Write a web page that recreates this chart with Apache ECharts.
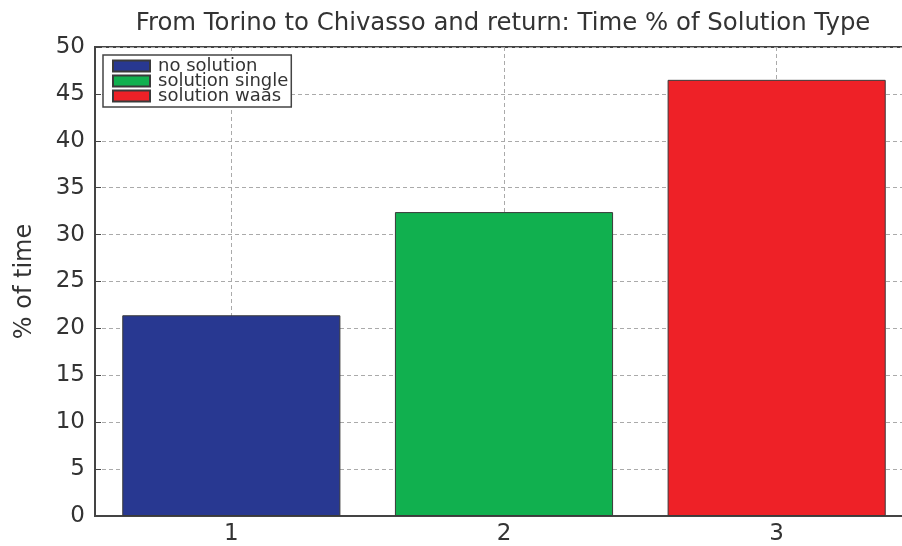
<!DOCTYPE html>
<html><head><meta charset="utf-8">
<script src="https://cdn.jsdelivr.net/npm/echarts@6/dist/echarts.min.js"></script>
<style>html,body{margin:0;padding:0;background:#fff;overflow:hidden}#c{width:913px;height:546px}</style>
</head><body><div id="c"></div>
<script>
const categories = ['1', '2', '3'];
const values = [21.4, 32.4, 46.5];
const seriesNames = ['no solution', 'solution single', 'solution waas'];
const colors = ['#283891', '#11b04f', '#ee2127'];
const yTicks = [0, 5, 10, 15, 20, 25, 30, 35, 40, 45, 50];

const chart = echarts.init(document.getElementById('c'), null, {renderer: 'canvas'});
const font = 'DejaVu Sans, Liberation Sans, Arial, sans-serif';
const series = seriesNames.map((name, i) => ({
  name: name,
  type: 'bar',
  barWidth: '80%',
  barGap: '-100%',
  data: values.map((v, j) => (j === i ? v : null)),
  itemStyle: {color: colors[i], borderColor: '#3a3a3a', borderWidth: 1}
}));
chart.setOption({
  animation: false,
  title: {
    text: 'From Torino to Chivasso and return: Time % of Solution Type',
    left: 498, top: 7, textAlign: 'center',
    textStyle: {fontFamily: font, fontSize: 24.4, fontWeight: 'normal', color: '#333'}
  },
  legend: {
    orient: 'vertical', left: 103, top: 55,
    data: seriesNames,
    itemWidth: 37, itemHeight: 11, itemGap: -3,
    padding: [2, 3, 2, 9],
    backgroundColor: '#fff', borderColor: '#444', borderWidth: 1.5, borderRadius: 0,
    icon: 'rect',
    textStyle: {fontFamily: font, fontSize: 18, color: '#333', lineHeight: 15, padding: [0, 0, 0, 3]}
  },
  grid: {left: 95, right: 0, top: 47, bottom: 30, show: true, borderColor: '#444', borderWidth: 2},
  xAxis: {
    type: 'category', data: categories,
    axisLine: {lineStyle: {color: '#444', width: 2}},
    axisTick: {show: false},
    axisLabel: {fontFamily: font, fontSize: 23, color: '#333', margin: 7},
    splitLine: {show: true, alignWithLabel: true, lineStyle: {color: '#aaa', type: [4, 3], width: 1}}
  },
  yAxis: {
    type: 'value', min: yTicks[0], max: yTicks[yTicks.length - 1], interval: 5,
    name: '% of time', nameLocation: 'middle', nameGap: 58,
    nameTextStyle: {fontFamily: font, fontSize: 24, color: '#333'},
    axisLine: {show: true, lineStyle: {color: '#444', width: 2}},
    axisTick: {show: true, inside: true, length: 6, lineStyle: {color: '#444'}},
    axisLabel: {fontFamily: font, fontSize: 23, color: '#333', margin: 10},
    splitLine: {show: true, lineStyle: {color: '#aaa', type: [4, 3], width: 1}}
  },
  series: series
});
</script></body></html>
